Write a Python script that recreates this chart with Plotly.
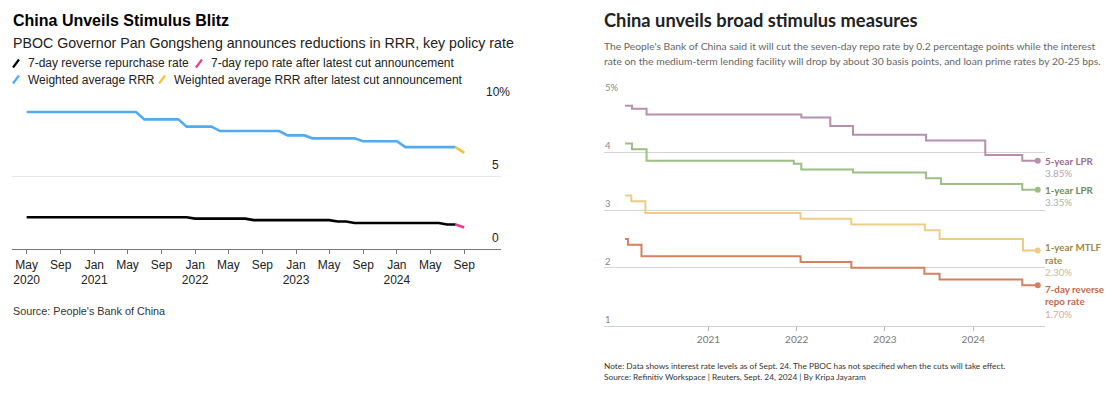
import plotly.graph_objects as go

W, H = 1114, 396
# the page body adds an 8px margin; the figure is sized so that it still fills the window
OFF = 8
FW, FH = W - OFF, H - OFF

# ---------------- Left chart data (Bloomberg) ----------------
rr_dates = ["2020-05-01", "2021-12-01", "2022-01-01", "2022-07-01", "2022-08-01",
            "2023-05-01", "2023-06-01", "2023-07-01", "2023-08-01", "2024-06-01",
            "2024-07-01", "2024-08-01"]
rr_vals = [2.2, 2.2, 2.1, 2.1, 2.0, 2.0, 1.9, 1.9, 1.8, 1.8, 1.7, 1.7]
rr_cut_dates = ["2024-08-01", "2024-09-01"]
rr_cut_vals = [1.7, 1.5]

rrr_dates = ["2020-05-01", "2021-06-01", "2021-07-01", "2021-11-01", "2021-12-01",
             "2022-03-01", "2022-04-01", "2022-11-01", "2022-12-01", "2023-02-01",
             "2023-03-01", "2023-08-01", "2023-09-01", "2024-01-01", "2024-02-01",
             "2024-08-01"]
rrr_vals = [9.4, 9.4, 8.9, 8.9, 8.4, 8.4, 8.1, 8.1, 7.8, 7.8, 7.6, 7.6, 7.4, 7.4, 7.0, 7.0]
rrr_cut_dates = ["2024-08-01", "2024-09-01"]
rrr_cut_vals = [7.0, 6.6]

left_tickvals = ["2020-05-01", "2020-09-01", "2021-01-01", "2021-05-01", "2021-09-01",
                 "2022-01-01", "2022-05-01", "2022-09-01", "2023-01-01", "2023-05-01",
                 "2023-09-01", "2024-01-01", "2024-05-01", "2024-09-01"]
left_ticktext = ["May<br>2020", "Sep", "Jan<br>2021", "May", "Sep", "Jan<br>2022", "May",
                 "Sep", "Jan<br>2023", "May", "Sep", "Jan<br>2024", "May", "Sep"]
left_yvals = [0, 5, 10]
left_ylabels = ["0", "5", "10%"]

# ---------------- Right chart data (Reuters) ----------------
lpr5_dates = ["2020-01-22", "2020-02-20", "2020-04-20", "2022-01-20", "2022-05-20",
              "2022-08-22", "2023-06-20", "2024-02-20", "2024-07-22", "2024-09-24"]
lpr5_vals = [4.80, 4.75, 4.65, 4.60, 4.45, 4.30, 4.20, 3.95, 3.85, 3.85]

lpr1_dates = ["2020-01-22", "2020-02-20", "2020-04-20", "2021-12-20", "2022-01-20",
              "2022-08-22", "2023-06-20", "2023-08-21", "2024-07-22", "2024-09-24"]
lpr1_vals = [4.15, 4.05, 3.85, 3.80, 3.70, 3.65, 3.55, 3.45, 3.35, 3.35]

mlf_dates = ["2020-01-22", "2020-02-17", "2020-04-15", "2022-01-17", "2022-08-15",
             "2023-06-15", "2023-08-15", "2024-07-25", "2024-09-24"]
mlf_vals = [3.25, 3.15, 2.95, 2.85, 2.75, 2.65, 2.50, 2.30, 2.30]

rev7_dates = ["2020-01-22", "2020-02-03", "2020-03-30", "2022-01-17", "2022-08-15",
              "2023-06-13", "2023-08-15", "2024-07-22", "2024-09-24"]
rev7_vals = [2.50, 2.40, 2.20, 2.10, 2.00, 1.90, 1.80, 1.70, 1.70]

right_tickvals = ["2021-01-01", "2022-01-01", "2023-01-01", "2024-01-01"]
right_ticktext = ["2021", "2022", "2023", "2024"]
right_yvals = [1, 2, 3, 4, 5]
right_ylabels = ["1", "2", "3", "4", "5%"]

right_series = [
    # name lines, value label, dates, values, line colour, label colour, value colour, yshift
    (["5-year LPR"], "3.85%", lpr5_dates, lpr5_vals, "#b68eaf", "#9a6b91", "#b3a3b0", 0),
    (["1-year LPR"], "3.35%", lpr1_dates, lpr1_vals, "#9cbf86", "#6e8e57", "#a9b3a1", 0),
    (["1-year MTLF", "rate"], "2.30%", mlf_dates, mlf_vals, "#f0cb86", "#9f8842", "#c9bb95", 3.5),
    (["7-day reverse", "repo rate"], "1.70%", rev7_dates, rev7_vals, "#d5805f", "#bf6a4d", "#d8aa9c", -3.5),
]


def px(x):
    return (x - OFF) / FW


def py(y):
    return 1 - (y - OFF) / FH


fig = go.Figure()

LF = "Liberation Sans, Arial, sans-serif"
RF = "Lato, sans-serif"

# left traces
fig.add_trace(go.Scatter(x=rrr_dates, y=rrr_vals, mode="lines", line=dict(color="#52aaf0", width=2.6),
                         xaxis="x", yaxis="y", showlegend=False, hoverinfo="skip"))
fig.add_trace(go.Scatter(x=rrr_cut_dates, y=rrr_cut_vals, mode="lines", line=dict(color="#f2c23c", width=2.6),
                         xaxis="x", yaxis="y", showlegend=False, hoverinfo="skip"))
fig.add_trace(go.Scatter(x=rr_dates, y=rr_vals, mode="lines", line=dict(color="#000000", width=2.6),
                         xaxis="x", yaxis="y", showlegend=False, hoverinfo="skip"))
fig.add_trace(go.Scatter(x=rr_cut_dates, y=rr_cut_vals, mode="lines", line=dict(color="#ec3c8c", width=2.6),
                         xaxis="x", yaxis="y", showlegend=False, hoverinfo="skip"))

# right traces
for names, vlabel, d, v, lc, tc, vc, ys in right_series:
    fig.add_trace(go.Scatter(x=d, y=v, mode="lines", line=dict(color=lc, width=2, shape="hv"),
                             xaxis="x2", yaxis="y2", showlegend=False, hoverinfo="skip"))
    fig.add_trace(go.Scatter(x=[d[-1]], y=[v[-1]], mode="markers", marker=dict(color=lc, size=6),
                             xaxis="x2", yaxis="y2", showlegend=False, hoverinfo="skip"))

annotations = []
shapes = []

# ---- left texts ----
annotations.append(dict(text="<b>China Unveils Stimulus Blitz</b>", x=px(11), y=py(21), xref="paper", yref="paper",
                        xanchor="left", yanchor="middle", showarrow=False,
                        font=dict(family=LF, size=16, color="#000")))
annotations.append(dict(text="PBOC Governor Pan Gongsheng announces reductions in RRR, key policy rate",
                        x=px(11), y=py(43), xref="paper", yref="paper", xanchor="left", yanchor="middle",
                        showarrow=False, font=dict(family=LF, size=14.2, color="#222")))

legend_items = [
    ("7-day reverse repurchase rate", "#000000", 12, 63.5),
    ("7-day repo rate after latest cut announcement", "#ec3c8c", 195, 63.5),
    ("Weighted average RRR", "#52aaf0", 12, 79.5),
    ("Weighted average RRR after latest cut announcement", "#f2c23c", 158, 79.5),
]
for txt, col, x0, yc in legend_items:
    shapes.append(dict(type="line", xref="paper", yref="paper", x0=px(x0 + 1), y0=py(yc + 4),
                       x1=px(x0 + 7), y1=py(yc - 4), line=dict(color=col, width=2.2)))
    annotations.append(dict(text=txt, x=px(x0 + 14), y=py(yc), xref="paper", yref="paper",
                            xanchor="left", yanchor="middle", showarrow=False,
                            font=dict(family=LF, size=12, color="#222")))

for val, lab in zip(left_yvals, left_ylabels):
    extra = 10.7 if lab.endswith("%") else 0
    annotations.append(dict(text=lab, x=px(501 + extra), y=val, xref="paper", yref="y",
                            xanchor="right", yanchor="middle", yshift=11.6, showarrow=False,
                            font=dict(family=LF, size=12, color="#222")))

annotations.append(dict(text="Source: People's Bank of China", x=px(11), y=py(311), xref="paper", yref="paper",
                        xanchor="left", yanchor="middle", showarrow=False,
                        font=dict(family=LF, size=10.8, color="#333")))

# ---- right texts ----
annotations.append(dict(text="<b>China unveils broad stimulus measures</b>", x=px(602), y=py(20),
                        xref="paper", yref="paper", xanchor="left", yanchor="middle", showarrow=False,
                        font=dict(family=RF, size=18.3, color="#222")))
sub_lines = ["The People's Bank of China said it will cut the seven-day repo rate by 0.2 percentage points while the interest",
             "rate on the medium-term lending facility will drop by about 30 basis points, and loan prime rates by 20-25 bps."]
for i, t in enumerate(sub_lines):
    annotations.append(dict(text=t, x=px(602), y=py(46.5 + 14.8 * i), xref="paper", yref="paper",
                            xanchor="left", yanchor="middle", showarrow=False,
                            font=dict(family=RF, size=10.3, color="#666")))

for val, lab in zip(right_yvals, right_ylabels):
    annotations.append(dict(text=lab, x=px(603), y=val, xref="paper", yref="y2",
                            xanchor="left", yanchor="middle", yshift=6.5, showarrow=False,
                            font=dict(family=RF, size=9.5, color="#888")))

for names, vlabel, d, v, lc, tc, vc, ys in right_series:
    lines = [("<b>%s</b>" % n, tc) for n in names] + [(vlabel, vc)]
    for j, (t, c) in enumerate(lines):
        annotations.append(dict(text=t, x=d[-1], y=v[-1], xref="x2", yref="y2", xanchor="left",
                                yanchor="middle", xshift=5, yshift=ys - 12.6 * j, showarrow=False,
                                font=dict(family=RF, size=9.8, color=c)))

notes = ["Note: Data shows interest rate levels as of Sept. 24. The PBOC has not specified when the cuts will take effect.",
         "Source: Refinitiv Workspace | Reuters, Sept. 24, 2024 | By Kripa Jayaram"]
for i, t in enumerate(notes):
    annotations.append(dict(text=t, x=px(602), y=py(365.7 + 11.5 * i), xref="paper", yref="paper",
                            xanchor="left", yanchor="middle", showarrow=False,
                            font=dict(family=RF, size=8.3, color="#333")))

fig.update_layout(
    width=FW, height=FH, margin=dict(l=0, r=0, t=0, b=0),
    paper_bgcolor="white", plot_bgcolor="white",
    xaxis=dict(type="date", domain=[px(12.3), px(500.7)], range=["2020-03-10", "2025-01-11"],
               tickvals=left_tickvals, ticktext=left_ticktext, ticks="outside", ticklen=4,
               tickcolor="#777", showline=True, linecolor="#777", linewidth=1, showgrid=False,
               zeroline=False, tickfont=dict(family=LF, size=12, color="#222"), anchor="y"),
    yaxis=dict(domain=[py(249.3), py(103.3)], range=[0, 10], tickvals=left_yvals, showticklabels=False,
               showgrid=True, gridcolor="#e6e6e6", gridwidth=1, zeroline=False, showline=False,
               anchor="x", fixedrange=True),
    xaxis2=dict(type="date", domain=[px(604), px(1045)], range=["2019-10-27", "2024-10-24"],
                tickvals=right_tickvals, ticktext=right_ticktext, ticks="outside", ticklen=4,
                tickcolor="#bbb", showline=True, linecolor="#d0d0d0", linewidth=1, showgrid=False,
                zeroline=False, tickfont=dict(family=RF, size=10, color="#777"), anchor="y2"),
    yaxis2=dict(domain=[py(325.7), py(94.3)], range=[1, 5], tickvals=right_yvals, showticklabels=False,
                showgrid=True, gridcolor="#d6d6d6", gridwidth=1, zeroline=False, showline=False,
                anchor="x2"),
    annotations=annotations, shapes=shapes,
)

fig.write_html("out.html")
